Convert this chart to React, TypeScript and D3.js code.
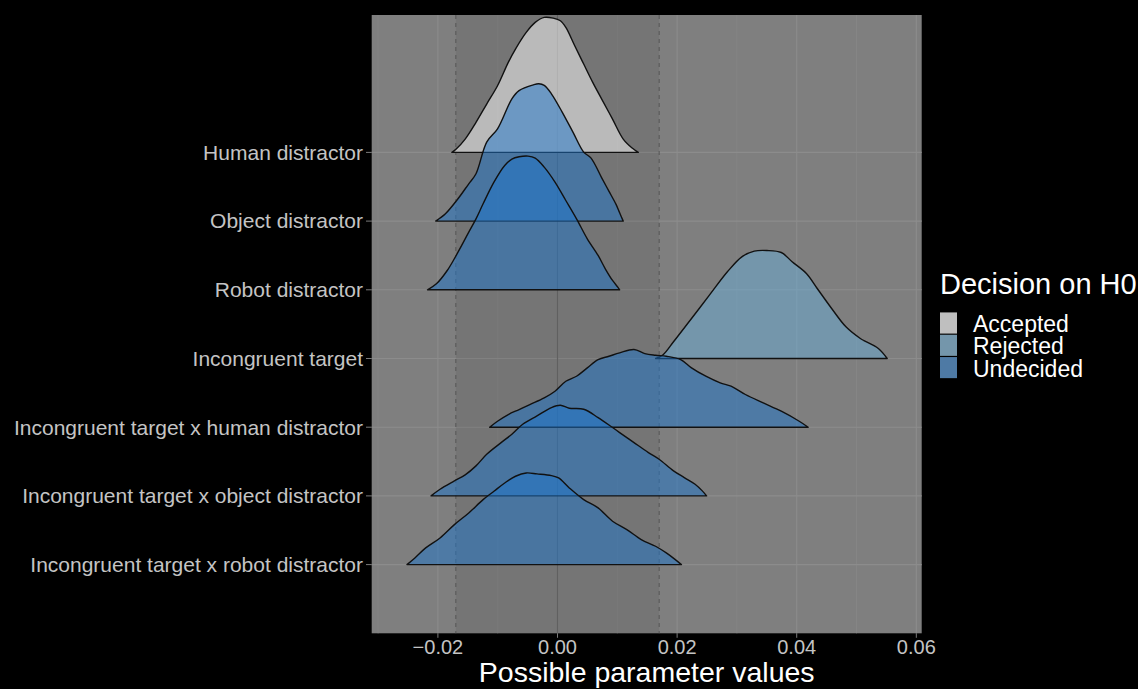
import React from "react";
import * as d3 from "d3";

// ---- data ----
const categories = [
  "Human distractor",
  "Object distractor",
  "Robot distractor",
  "Incongruent target",
  "Incongruent target x human distractor",
  "Incongruent target x object distractor",
  "Incongruent target x robot distractor",
];
const decisions = ["Accepted", "Undecided", "Undecided", "Rejected", "Undecided", "Undecided", "Undecided"];

const legendLabels = ["Accepted", "Rejected", "Undecided"];
const legendColors = ["#ffffff", "#6aaed8", "#1e76cc"];

const xTicks = [-0.02, 0.0, 0.02, 0.04, 0.06];
const xMinor = [-0.03, -0.01, 0.01, 0.03, 0.05];
const ropeLow = -0.017;
const ropeHigh = 0.017;

// ridge outlines: parameter value and density height (in category units)
const humanX = [-0.01766, -0.01694, -0.01544, -0.01363, -0.01184, -0.01003, -0.00823, -0.00703, -0.00523, -0.00373, -0.00222, -0.00072, 0.00048, 0.00139, 0.00288, 0.00438, 0.00589, 0.00739, 0.0092, 0.01099, 0.01249, 0.01351];
const humanD = [0, 0.049, 0.194, 0.437, 0.704, 0.97, 1.31, 1.504, 1.747, 1.892, 1.965, 1.955, 1.917, 1.819, 1.553, 1.286, 1.019, 0.776, 0.485, 0.194, 0.063, 0];

const objectX = [-0.02037, -0.01874, -0.01664, -0.01484, -0.01363, -0.01184, -0.01003, -0.00763, -0.00643, -0.00403, -0.00313, -0.00222, -0.00102, 0.00078, 0.00258, 0.00438, 0.00558, 0.00739, 0.00859, 0.00979, 0.01039, 0.01099];
const objectD = [0, 0.107, 0.325, 0.543, 0.689, 1.15, 1.343, 1.78, 1.9, 1.984, 1.999, 1.975, 1.853, 1.587, 1.295, 1.004, 0.92, 0.63, 0.437, 0.243, 0.121, 0];

const robotX = [-0.02174, -0.02025, -0.01844, -0.01664, -0.01484, -0.01363, -0.01244, -0.01063, -0.00883, -0.00763, -0.00642, -0.00493, -0.00373, -0.00222, -0.00042, 0.00139, 0.00318, 0.00498, 0.00679, 0.00799, 0.0092, 0.01008, 0.01039];
const robotD = [0, 0.087, 0.281, 0.548, 0.839, 1.033, 1.252, 1.567, 1.81, 1.902, 1.936, 1.946, 1.917, 1.785, 1.567, 1.3, 1.033, 0.742, 0.5, 0.306, 0.136, 0.039, 0];

const incongX = [0.0164, 0.0176, 0.0194, 0.02241, 0.0254, 0.02841, 0.03082, 0.03291, 0.03502, 0.03742, 0.03923, 0.04162, 0.04343, 0.04584, 0.04823, 0.05064, 0.05124, 0.05365, 0.05513];
const incongD = [0, 0.05, 0.243, 0.582, 0.922, 1.262, 1.48, 1.563, 1.572, 1.543, 1.408, 1.237, 1.019, 0.728, 0.461, 0.291, 0.26, 0.146, 0];

const ixHumanX = [-0.01135, -0.01003, -0.00823, -0.00642, -0.00463, -0.00222, -0.00042, 0.00139, 0.00318, 0.00498, 0.00679, 0.0086, 0.01039, 0.01279, 0.0146, 0.0164, 0.01819, 0.0206, 0.02241, 0.0248, 0.02721, 0.02901, 0.03142, 0.03441, 0.03742, 0.04042, 0.04192];
const ixHumanD = [0, 0.087, 0.184, 0.257, 0.33, 0.427, 0.524, 0.669, 0.742, 0.864, 0.985, 1.033, 1.082, 1.131, 1.072, 1.048, 1.033, 0.985, 0.864, 0.742, 0.645, 0.597, 0.476, 0.354, 0.233, 0.087, 0];

const ixObjectX = [-0.02114, -0.01964, -0.01724, -0.01544, -0.01363, -0.01184, -0.00943, -0.00763, -0.00582, -0.00343, -0.00102, 0.00048, 0.00197, 0.00438, 0.00679, 0.0092, 0.01039, 0.01279, 0.0152, 0.01699, 0.0194, 0.0212, 0.02301, 0.02421, 0.02493];
const ixObjectD = [0, 0.097, 0.218, 0.306, 0.437, 0.606, 0.776, 0.898, 1.043, 1.164, 1.286, 1.32, 1.276, 1.261, 1.14, 0.995, 0.922, 0.776, 0.631, 0.534, 0.364, 0.267, 0.17, 0.073, 0];

const ixRobotX = [-0.02517, -0.02385, -0.02204, -0.01964, -0.01724, -0.01484, -0.01244, -0.01063, -0.00883, -0.00702, -0.00523, -0.00343, -0.00102, 0.00018, 0.00197, 0.00438, 0.00679, 0.0092, 0.01159, 0.014, 0.0164, 0.01819, 0.0197, 0.02072];
const ixRobotD = [0, 0.097, 0.243, 0.388, 0.582, 0.752, 0.946, 1.067, 1.188, 1.286, 1.334, 1.32, 1.295, 1.261, 1.116, 0.946, 0.825, 0.631, 0.51, 0.364, 0.267, 0.17, 0.073, 0];

const ridgeX = [humanX, objectX, robotX, incongX, ixHumanX, ixObjectX, ixRobotX];
const ridgeD = [humanD, objectD, robotD, incongD, ixHumanD, ixObjectD, ixRobotD];

// ---- layout ----
const W = 1138;
const H = 689;
const panel = { left: 371.7, right: 921.7, top: 15, bottom: 633.3 };
const FONT = "'Liberation Sans', Arial, Helvetica, sans-serif";

export default function App() {
  const x = d3.scaleLinear().domain([-0.03107, 0.0609]).range([panel.left, panel.right]);
  const y = d3.scaleLinear().domain([0, 9]).range([panel.bottom, panel.top]);
  const color = d3.scaleOrdinal<string, string>().domain(legendLabels).range(legendColors);
  const pos = (i: number) => categories.length - i;

  const ridges = categories.map((c, i) => {
    const pts = ridgeX[i].map((v, j) => [v, ridgeD[i][j]] as [number, number]);
    const area = d3
      .area<[number, number]>()
      .x((d) => x(d[0]))
      .y0(y(pos(i)))
      .y1((d) => y(pos(i) + d[1]))
      .curve(d3.curveCatmullRom.alpha(0.5));
    return { c, d: area(pts) || "", fill: color(decisions[i]) };
  });

  return (
    <svg width={W} height={H} style={{ position: "absolute", left: 0, top: 0, display: "block" }} fontFamily={FONT}>
      <rect x={0} y={0} width={W} height={H} fill="#000" />
      <rect x={panel.left} y={panel.top} width={panel.right - panel.left} height={panel.bottom - panel.top} fill="#7f7f7f" />
      {xMinor.map((t) => (
        <line key={"mn" + t} x1={x(t)} x2={x(t)} y1={panel.top} y2={panel.bottom} stroke="#878787" strokeWidth={0.8} />
      ))}
      {xTicks.map((t) => (
        <line key={"mj" + t} x1={x(t)} x2={x(t)} y1={panel.top} y2={panel.bottom} stroke="#8c8c8c" strokeWidth={1.1} />
      ))}
      {categories.map((c, i) => (
        <line key={"hy" + c} x1={panel.left} x2={panel.right} y1={y(pos(i))} y2={y(pos(i))} stroke="#8c8c8c" strokeWidth={1.1} />
      ))}
      <rect x={x(ropeLow)} y={panel.top} width={x(ropeHigh) - x(ropeLow)} height={panel.bottom - panel.top} fill="rgba(0,0,0,0.08)" />
      <line x1={x(0)} x2={x(0)} y1={panel.top} y2={panel.bottom} stroke="#606060" strokeWidth={1.2} />
      {[ropeLow, ropeHigh].map((t) => (
        <line key={"rp" + t} x1={x(t)} x2={x(t)} y1={panel.top} y2={panel.bottom} stroke="#555" strokeWidth={1} strokeDasharray="4,4" />
      ))}
      {ridges.map((r) => (
        <path key={r.c} d={r.d} fill={r.fill} fillOpacity={0.5} stroke="#111" strokeWidth={1.4} strokeLinejoin="round" />
      ))}
      {/* y axis */}
      {categories.map((c, i) => (
        <g key={"yl" + c}>
          <line x1={366} x2={panel.left} y1={y(pos(i))} y2={y(pos(i))} stroke="#7a7a7a" strokeWidth={1} />
          <text x={363} y={y(pos(i))} dy="0.35em" textAnchor="end" fontSize={21} fill="#c4c4c4">
            {c}
          </text>
        </g>
      ))}
      {/* x axis */}
      {xTicks.map((t) => (
        <g key={"xl" + t}>
          <line x1={x(t)} x2={x(t)} y1={panel.bottom} y2={panel.bottom + 4.5} stroke="#7a7a7a" strokeWidth={1} />
          <text x={x(t)} y={654} textAnchor="middle" fontSize={20} fill="#c4c4c4">
            {d3.format(".2f")(t)}
          </text>
        </g>
      ))}
      <text x={(panel.left + panel.right) / 2} y={682} textAnchor="middle" fontSize={28.5} fill="#fff">
        Possible parameter values
      </text>
      {/* legend */}
      <text x={940} y={294} fontSize={29} fill="#fff">
        Decision on H0
      </text>
      {legendLabels.map((l, i) => (
        <g key={"lg" + l}>
          <rect x={940} y={312.5 + i * 22.3} width={17} height={21} fill="#7f7f7f" />
          <rect x={940} y={312.5 + i * 22.3} width={17} height={21} fill={color(l)} fillOpacity={0.5} />
          <text x={973} y={331.5 + i * 22.6} fontSize={23} fill="#fff">
            {l}
          </text>
        </g>
      ))}
    </svg>
  );
}
